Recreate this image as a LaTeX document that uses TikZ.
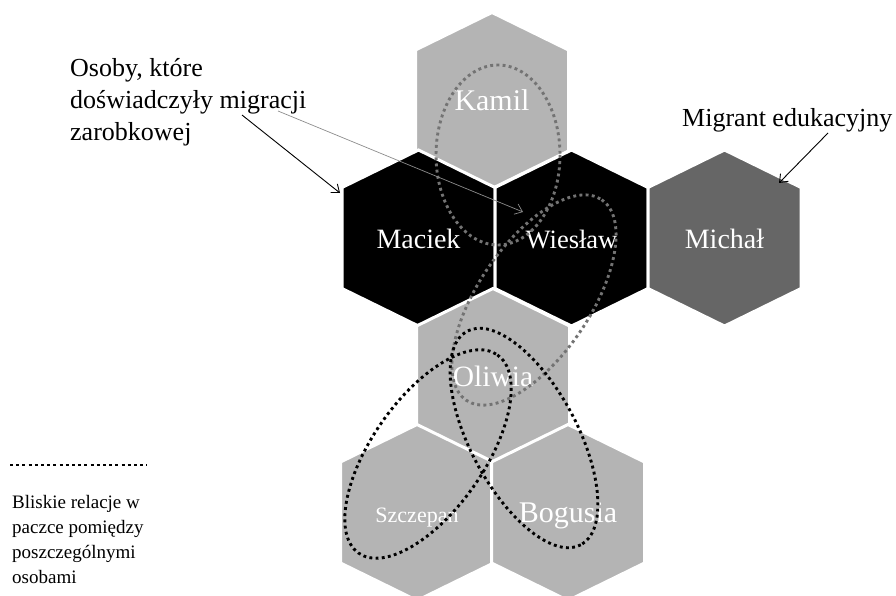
\documentclass[tikz,border=0pt]{standalone}
\usepackage{fontspec}
\setmainfont{Liberation Serif}
\usetikzlibrary{arrows.meta}

\definecolor{lightcell}{RGB}{180,180,180}
\definecolor{darkcell}{RGB}{102,102,102}
\definecolor{ringgray}{RGB}{115,115,115}
\definecolor{arrowgray}{RGB}{140,140,140}

% one cell of the honeycomb, #1 = centre, #2 = fill
\newcommand{\hexcell}[2]{%
  \filldraw[hex, fill=#2] (#1) ++(0,-88) -- ++(76.5,37.5) -- ++(0,101)
    -- ++(-76.5,37.5) -- ++(-76.5,-37.5) -- ++(0,-101) -- cycle;}

\begin{document}
\begin{tikzpicture}[x=1pt,y=-1pt,
   hex/.style={draw=white,line width=3pt,line join=miter},
   cell/.style={text=white,inner sep=0pt,text height=20pt,text depth=0pt,
     font=\fontsize{28}{28}\selectfont},
   ring/.style={line width=2.9pt,dash pattern=on 2.9pt off 3.3pt},
   note/.style={align=left,inner sep=0pt,font=\fontsize{26}{32}\selectfont},
   pointer/.style={-{Straight Barb[length=7pt,width=11pt]},line width=0.9pt}]

\useasboundingbox (0,0) rectangle (896,596);

\hexcell{492,100.5}{lightcell}
\hexcell{418.5,238}{black}
\hexcell{571.5,238}{black}
\hexcell{724.5,238}{darkcell}
\hexcell{493,376.5}{lightcell}
\hexcell{417,512.5}{lightcell}
\hexcell{568,512.5}{lightcell}

\node[cell,font=\fontsize{30}{30}\selectfont] (kamil) at (492,100.5) {Kamil};
\node[cell] (maciek) at (418.5,238) {Maciek};
\node[cell,font=\fontsize{26.5}{26.5}\selectfont] (wieslaw) at (571.5,238) {Wiesław};
\node[cell] (michal) at (724.5,238) {Michał};
\node[cell,font=\fontsize{29.5}{29.5}\selectfont] (oliwia) at (493,376.5) {Oliwia};
\node[cell,font=\fontsize{22}{22}\selectfont] (szczepan) at (417,512.5) {Szczepan};
\node[cell,font=\fontsize{30}{30}\selectfont] (bogusia) at (568,512.5) {Bogusia};

\node[note,anchor=north west] (osoby) at (70,58)
  {Osoby, które\\doświadczyły migracji\\zarobkowej};
\node[note,anchor=base west] (migrant) at (682,127) {Migrant edukacyjny};
\node[note,anchor=north west,font=\fontsize{19}{25}\selectfont] (legend) at (12,495)
  {Bliskie relacje w\\paczce pomiędzy\\poszczególnymi\\osobami};

% close relations
\draw[ring,ringgray] (498,155) ellipse (62 and 90);
\draw[ring,ringgray,rotate around={56:(534,300)}] (534,300) ellipse (121 and 56);
\draw[ring,rotate around={-62:(524,438)}] (524,438) ellipse (121 and 53.5);
\draw[ring,rotate around={55:(428,454)}] (428,454) ellipse (121 and 56);

\coordinate (legA) at (10,465);
\coordinate (legB) at (147,465);
\draw[ring] (legA) -- (legB);

\coordinate (osobyA) at (242,115);
\coordinate (osobyB) at (278,111);
\coordinate (maciekTip) at (340,193);
\coordinate (wieslawTip) at (523,212);
\coordinate (migrantA) at (828,133);
\coordinate (michalTip) at (779,183);

\path (osobyA) edge[pointer] (maciekTip);
\path (osobyB) edge[pointer,arrowgray,line width=0.7pt] (wieslawTip);
\path (migrantA) edge[pointer] (michalTip);

\end{tikzpicture}
\end{document}
